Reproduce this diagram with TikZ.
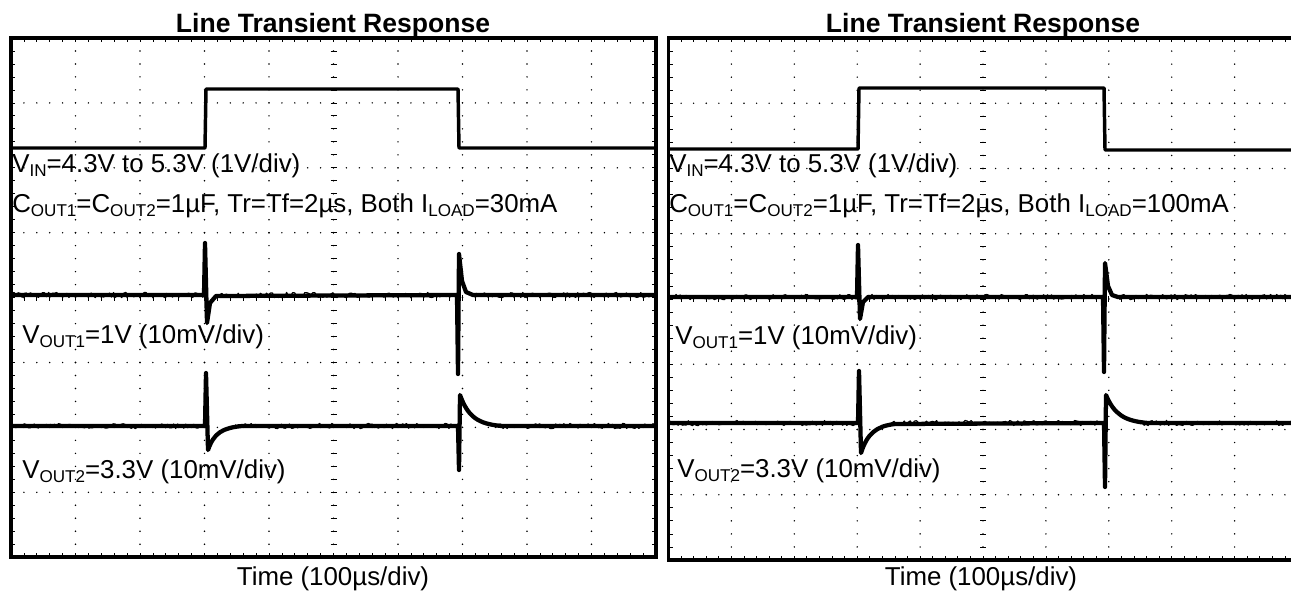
\documentclass[tikz,border=0pt]{standalone}
\usepackage{fontspec}
\setmainfont{Liberation Sans}
\usepackage{tikz}

% subscript in the scope labels
\newcommand{\sbs}[1]{\raisebox{-3pt}{\fontsize{12.8}{13}\selectfont #1}}
% scope grid: #1 x0, #2 y0, #3 x div, #4 y div
\newcommand{\osgrid}[4]{%
  \foreach \i in {1,...,9}
    \foreach \j in {1,...,39}
      \fill ({#1+\i*#3},{#2+\j*#4/5}) circle (0.8);
  \foreach \k in {1,...,7}
    \foreach \j in {1,...,49}
      \fill ({#1+\j*#3/5},{#2+\k*#4}) circle (0.8);
  % centre lines
  \foreach \j in {1,...,39}
    \draw[tick] ({#1+5*#3-3},{#2+\j*#4/5}) -- ++(6,0);
  \foreach \j in {1,...,49}
    \draw[tick] ({#1+\j*#3/5},{#2+4*#4-3}) -- ++(0,6);
  % frame ticks
  \foreach \j in {1,...,39}{
    \draw[tick] (#1,{#2+\j*#4/5}) -- ++(4,0);
    \draw[tick] ({#1+10*#3},{#2+\j*#4/5}) -- ++(-4,0);}
  \foreach \j in {1,...,49}{
    \draw[tick] ({#1+\j*#3/5},#2) -- ++(0,4);
    \draw[tick] ({#1+\j*#3/5},{#2+8*#4}) -- ++(0,-4);}
}
% noise on a flat trace: #1 from x, #2 to x, #3 level
\newcommand{\fuzz}[3]{%
  \draw[noise] plot[domain=#1:#2,samples={int((#2-#1)/2)}] (\x,{#3+2.6*rand});
}

\begin{document}
\begin{tikzpicture}[x=0.75pt,y=0.75pt,yscale=-1,
  tick/.style={line width=0.6pt},
  frame/.style={line width=2.3pt},
  vin/.style={line width=2.6pt,line join=round},
  vout/.style={line width=3.2pt,line join=round},
  noise/.style={line width=0.9pt,line join=round},
  lbl/.style={inner sep=0pt,font=\fontsize{19.4}{23}\selectfont}]
\clip (0,0) rectangle (1291,590);
\pgfmathsetseed{17}

%Left scope
\osgrid{11}{38}{64.5}{64.9}
\draw[frame] (11,38) rectangle (656,557);
%Right scope
\osgrid{668.5}{38}{62.9}{65.25}
\draw[frame] (668.5,38) rectangle (1297.5,560);

%Traces left
\draw[vin] (11,148) -- (205,148) -- (206,89) -- (458,89) -- (459,148) -- (656,148);
\draw[vout] (11,295) -- (204,295) -- (205,243) -- (207,323) -- (210,303) -- (216,296) -- (457,295) -- (458,374) -- (459,254) -- (462,281) -- (466,292) -- (473,295) -- (656,295);
\draw[vout] (11,426) -- (205,426) -- (206,373) -- (208,450) .. controls (214,433) and (222,428) .. (242,426) -- (458,426) -- (459,470) -- (460,395) .. controls (468,417) and (478,424) .. (502,426) -- (656,426);
\fuzz{12}{203}{295} \fuzz{216}{456}{295} \fuzz{472}{655}{295}
\fuzz{12}{204}{426} \fuzz{235}{457}{426} \fuzz{495}{655}{426}
%Traces right
\draw[vin] (668,149) -- (858,149) -- (859,88) -- (1104,88) -- (1105,150) -- (1291,150);
\draw[vout] (668,297) -- (857,297) -- (858,245) -- (860,319) -- (863,302) -- (868,297) -- (1103,297) -- (1104,372) -- (1105,263) -- (1108,286) -- (1112,295) -- (1118,297) -- (1291,297);
\draw[vout] (668,423) -- (858,423) -- (859,371) -- (861,453) .. controls (867,434) and (876,426) .. (895,424) -- (1104,423) -- (1105,487) -- (1106,395) .. controls (1114,414) and (1124,421) .. (1148,423) -- (1291,423);
\fuzz{670}{856}{297} \fuzz{868}{1102}{297} \fuzz{1118}{1291}{297}
\fuzz{670}{857}{423} \fuzz{890}{1103}{423} \fuzz{1142}{1291}{423}

% Text Node
\draw (333,32) node (titleL) [anchor=base][inner sep=0pt] {\fontsize{19.9}{24}\selectfont\bfseries Line Transient Response};
\draw (983,32) node (titleR) [anchor=base][inner sep=0pt] {\fontsize{19.9}{24}\selectfont\bfseries Line Transient Response};
% Text Node
\draw (12,172) node (vinL) [anchor=base west][lbl] {V\sbs{IN}=4.3V to 5.3V (1V/div)};
\draw (12,212) node (coutL) [anchor=base west][lbl] {C\sbs{OUT1}=C\sbs{OUT2}=1µF, Tr=Tf=2µs, Both I\sbs{LOAD}=30mA};
\draw (22,343) node (vo1L) [anchor=base west][lbl] {V\sbs{OUT1}=1V (10mV/div)};
\draw (22,478) node (vo2L) [anchor=base west][lbl] {V\sbs{OUT2}=3.3V (10mV/div)};
\draw (333,585) node (timeL) [anchor=base][lbl] {Time (100µs/div)};
% Text Node
\draw (669,172) node (vinR) [anchor=base west][lbl] {V\sbs{IN}=4.3V to 5.3V (1V/div)};
\draw (669,212) node (coutR) [anchor=base west][lbl] {C\sbs{OUT1}=C\sbs{OUT2}=1µF, Tr=Tf=2µs, Both I\sbs{LOAD}=100mA};
\draw (675,344) node (vo1R) [anchor=base west][lbl] {V\sbs{OUT1}=1V (10mV/div)};
\draw (677,477) node (vo2R) [anchor=base west][lbl] {V\sbs{OUT2}=3.3V (10mV/div)};
\draw (981,585) node (timeR) [anchor=base][lbl] {Time (100µs/div)};

\end{tikzpicture}
\end{document}
